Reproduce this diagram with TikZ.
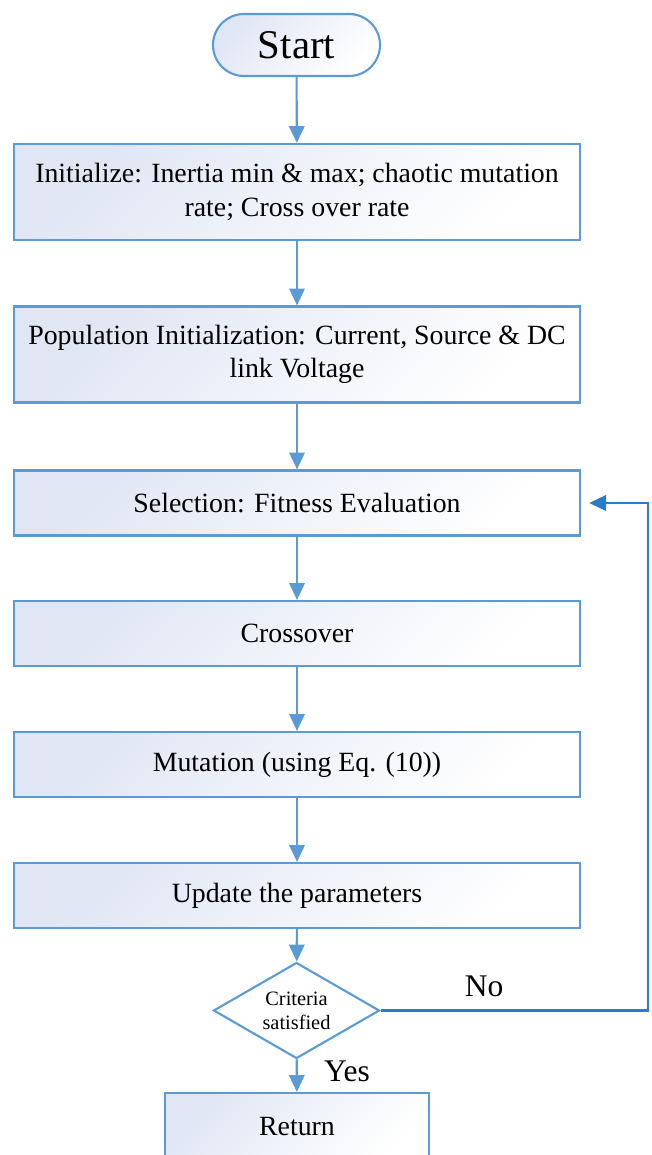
\documentclass[tikz,border=0pt]{standalone}
\usepackage{fontspec}
\setmainfont{Liberation Serif}
\usetikzlibrary{shapes.geometric,arrows.meta}
\definecolor{flowblue}{RGB}{91,155,213}
\definecolor{loopblue}{RGB}{40,125,200}
\definecolor{boxtint}{RGB}{224,230,244}
\begin{document}
\begin{tikzpicture}[x=0.025cm,y=-0.025cm]
		\tikzstyle{shade} = [top color=boxtint,bottom color=white,shading angle=45]
		\tikzstyle{procbox} = [rectangle,draw=flowblue,line width=1.5pt,shade,minimum width=14.15cm,minimum height=1.625cm,align=center,font=\fontsize{19.8}{23.5}\selectfont]
		\tikzstyle{tallbox} = [procbox,minimum height=2.4cm]
		\tikzstyle{startbox} = [rectangle,rounded corners=0.775cm,draw=flowblue,line width=1.5pt,shade,minimum width=4.175cm,minimum height=1.55cm,font=\fontsize{29}{34}\selectfont]
		\tikzstyle{checkbox} = [diamond,aspect=1.72,draw=flowblue,line width=1.5pt,fill=white,inner sep=0pt,minimum width=4.15cm,minimum height=2.4cm,align=center,font=\fontsize{14.5}{17}\selectfont]
		\tikzstyle{flowarrow} = [draw=flowblue,line width=1.5pt,-{Triangle[length=12pt,width=11pt]},color=flowblue]
		\tikzstyle{answer} = [font=\fontsize{22.4}{26}\selectfont]
		\useasboundingbox (0,0) rectangle (651,1155);

		\node[startbox] (start) at (296.5,45) {Start};
		\node[tallbox] (init) at (297,192) {Initialize: Inertia min \& max; chaotic mutation\\rate; Cross over rate};
		\node[tallbox] (pop) at (297,354.5) {Population Initialization: Current, Source \& DC\\link Voltage};
		\node[procbox] (select) at (297,503) {Selection: Fitness Evaluation};
		\node[procbox] (cross) at (297,633.5) {Crossover};
		\node[procbox] (mutate) at (297,764.5) {Mutation (using Eq. (10))};
		\node[procbox] (update) at (297,895.5) {Update the parameters};
		\node[checkbox] (check) at (296.5,1010.5) {Criteria\\satisfied};
		\node[procbox,minimum width=6.6cm,minimum height=1.675cm] (ret) at (297,1126.5) {Return};

		\draw[flowarrow] (start) -- (init);
		\draw[flowarrow] (init) -- (pop);
		\draw[flowarrow] (pop) -- (select);
		\draw[flowarrow] (select) -- (cross);
		\draw[flowarrow] (cross) -- (mutate);
		\draw[flowarrow] (mutate) -- (update);
		\draw[flowarrow] (update) -- (check);
		\draw[flowarrow] (check) -- (ret);
		\draw[flowarrow,color=loopblue,shorten >=8*0.025cm] (check.east) -| (648,503) -- (select.east);

		\node[answer] (no) at (484,986) {No};
		\node[answer] (yes) at (347,1071) {Yes};
	\end{tikzpicture}
\end{document}
